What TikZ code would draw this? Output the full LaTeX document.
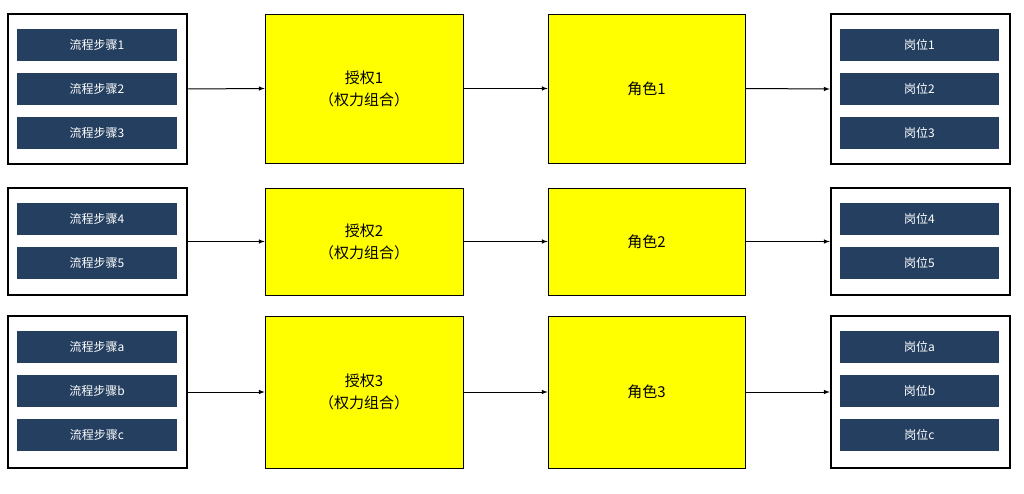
\documentclass[tikz,border=0pt]{standalone}
\usepackage{fontspec}
\setmainfont{Noto Sans CJK SC}
\definecolor{navy}{HTML}{243F60}
\definecolor{yel}{HTML}{FFFF00}
\begin{document}
\begin{tikzpicture}[x=1pt,y=-1pt,
 outer/.style={draw=black,line width=2.5pt,fill=white},
 inner/.style={fill=navy,text=white,font=\fontsize{12}{14}\selectfont},
 ybox/.style={draw=black,line width=0.6pt,fill=yel,align=center,font=\fontsize{15}{22}\selectfont},
 arr/.style={->,>=latex,line width=1pt}]
\useasboundingbox (0,0) rectangle (1024,494);
\def\row#1#2#3#4{% top, bottom, label
}
% outer boxes
\node[outer,minimum width=179pt,minimum height=150pt] (L1) at (97.5,89) {};
\node[outer,minimum width=179pt,minimum height=107pt] (L2) at (97.5,241.5) {};
\node[outer,minimum width=179pt,minimum height=152pt] (L3) at (97.5,392) {};
\node[outer,minimum width=179pt,minimum height=150pt] (R1) at (920.5,89) {};
\node[outer,minimum width=179pt,minimum height=107pt] (R2) at (920.5,241.5) {};
\node[outer,minimum width=179pt,minimum height=152pt] (R3) at (920.5,392) {};
% inner
\foreach \y/\t/\p/\n in {45/1/1/a1,89/2/2/a2,133/3/3/a3,219/4/4/a4,263/5/5/a5,347/a/a/a6,391/b/b/a7,435/c/c/a8}{
 \node[inner,minimum width=160pt,minimum height=32pt] (s\n) at (97,\y) {流程步骤\t};
 \node[inner,minimum width=159pt,minimum height=32pt] (p\n) at (919.5,\y) {岗位\p};
}
% yellow
\node[ybox,minimum width=198pt,minimum height=149pt] (A1) at (364,88.5) {授权1\\（权力组合）};
\node[ybox,minimum width=198pt,minimum height=107pt] (A2) at (364,241.5) {授权2\\（权力组合）};
\node[ybox,minimum width=198pt,minimum height=152pt] (A3) at (364,392) {授权3\\（权力组合）};
\node[ybox,minimum width=197pt,minimum height=149pt] (J1) at (646.5,88.5) {角色1};
\node[ybox,minimum width=197pt,minimum height=107pt] (J2) at (646.5,241.5) {角色2};
\node[ybox,minimum width=197pt,minimum height=152pt] (J3) at (646.5,392) {角色3};
\foreach \i in {1,2,3}{
 \draw[arr] (L\i.east) -- (A\i.west);
 \draw[arr] (A\i.east) -- (J\i.west);
 \draw[arr] (J\i.east) -- (R\i.west);
}
\end{tikzpicture}
\end{document}
